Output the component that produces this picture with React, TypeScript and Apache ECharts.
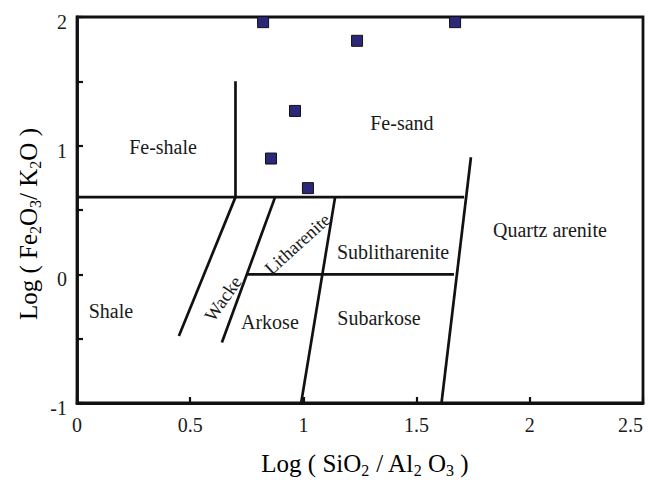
import React, { useEffect, useRef } from "react";
import * as echarts from "echarts";

const xTicks = [0, 0.5, 1, 1.5, 2, 2.5];
const yTicks = [-1, 0, 1, 2];

// Sample points: [log(SiO2/Al2O3), log(Fe2O3/K2O)]
const samples: [number, number][] = [
  [0.822, 1.96],
  [1.67, 1.96],
  [1.237, 1.815],
  [0.963, 1.27],
  [0.857, 0.9],
  [1.02, 0.67],
];

// Classification boundaries (Herron 1988)
const boundaries: [number, number][][] = [
  [[0, 0.6], [1.71, 0.6]],
  [[0.7, 0.6], [0.7, 1.5]],
  [[0.7, 0.6], [0.45, -0.48]],
  [[0.875, 0.6], [0.64, -0.53]],
  [[0.75, 0], [1.665, 0]],
  [[1.14, 0.6], [0.99, -1]],
  [[1.61, -1], [1.74, 0.91]],
];

const regionNames = ["Fe-shale", "Fe-sand", "Quartz arenite", "Sublitharenite", "Subarkose", "Shale", "Arkose", "Wacke", "Litharenite"];
const regionX = [0.38, 1.435, 2.089, 1.396, 1.334, 0.15, 0.852, 0.646, 0.974];
const regionY = [0.99, 1.175, 0.344, 0.173, -0.34, -0.285, -0.368, -0.19, 0.235];
const regionRotate = [0, 0, 0, 0, 0, 0, 0, 55, 42];

const FONT = "Liberation Serif";
const INK = "#111111";

export default function App() {
  const ref = useRef<HTMLDivElement>(null);
  useEffect(() => {
    if (!ref.current) return;
    const chart = echarts.init(ref.current, undefined, { renderer: "svg" });
    const lineSeries = boundaries.map((seg) => ({
      type: "line",
      data: seg,
      symbol: "none",
      silent: true,
      lineStyle: { color: INK, width: 2.7 },
      z: 2,
    }));
    const titleRich = {
      n: { fontSize: 25, fontFamily: FONT, color: "#1a1a1a", lineHeight: 28 },
      s: { fontSize: 16, fontFamily: FONT, color: "#1a1a1a", lineHeight: 28, padding: [14, 0, 0, 0] },
    };
    chart.setOption({
      animation: false,
      backgroundColor: "#ffffff",
      grid: {
        left: 77,
        right: 6,
        top: 17,
        bottom: 77,
        show: true,
        borderColor: INK,
        borderWidth: 2.8,
      },
      xAxis: {
        type: "value",
        min: 0,
        max: 2.5,
        interval: 0.5,
        axisLine: { show: true, onZero: false, lineStyle: { color: INK, width: 2.8 } },
        axisTick: { show: true, inside: true, length: 6, lineStyle: { color: INK, width: 2.2 } },
        splitLine: { show: false },
        axisLabel: {
          fontSize: 20,
          fontFamily: FONT,
          color: "#1a1a1a",
          margin: 12,
          alignMaxLabel: "right",
          formatter: (v: number) => (xTicks.includes(v) ? String(v) : ""),
        },
      },
      yAxis: {
        type: "value",
        min: -1,
        max: 2,
        interval: 0.5,
        axisLine: { show: true, onZero: false, lineStyle: { color: INK, width: 2.8 } },
        axisTick: { show: true, inside: true, length: 6, lineStyle: { color: INK, width: 2.2 } },
        splitLine: { show: false },
        axisLabel: {
          fontSize: 20,
          fontFamily: FONT,
          color: "#1a1a1a",
          margin: 10,
          verticalAlign: "top",
          lineHeight: 10,
          formatter: (v: number) => (yTicks.includes(v) ? String(v) : ""),
        },
      },
      series: [
        ...lineSeries,
        {
          type: "custom",
          silent: true,
          data: regionNames.map((name, i) => [regionX[i], regionY[i], i]),
          renderItem: (params: any, api: any) => {
            const i = api.value(2);
            const p = api.coord([api.value(0), api.value(1)]);
            const rot = regionRotate[i];
            return {
              type: "text",
              x: p[0],
              y: p[1],
              rotation: (rot * Math.PI) / 180,
              style: {
                text: regionNames[i],
                fontFamily: FONT,
                fontSize: rot ? 18.5 : 20,
                fill: "#1a1a1a",
                align: "center",
                verticalAlign: "middle",
              },
            };
          },
          z: 3,
        },
        {
          type: "scatter",
          data: samples,
          symbol: "rect",
          symbolSize: 11,
          itemStyle: { color: "#2b2878", borderColor: "#111", borderWidth: 1, opacity: 1 },
          z: 5,
        },
      ],
      graphic: [
        {
          type: "text",
          x: 365,
          y: 463,
          style: {
            text: "{n|Log ( SiO}{s|2}{n| / Al}{s|2}{n| O}{s|3}{n| )}",
            rich: titleRich,
            align: "center",
            verticalAlign: "middle",
          },
        },
        {
          type: "text",
          x: 28,
          y: 224,
          rotation: Math.PI / 2,
          style: {
            text: "{n|Log ( Fe}{s|2}{n|O}{s|3}{n|/ K}{s|2}{n|O )}",
            rich: titleRich,
            align: "center",
            verticalAlign: "middle",
          },
        },
      ],
    });
    return () => chart.dispose();
  }, []);
  return (
    <div
      ref={ref}
      style={{ position: "fixed", left: 0, top: 0, width: 649, height: 480 }}
    />
  );
}
